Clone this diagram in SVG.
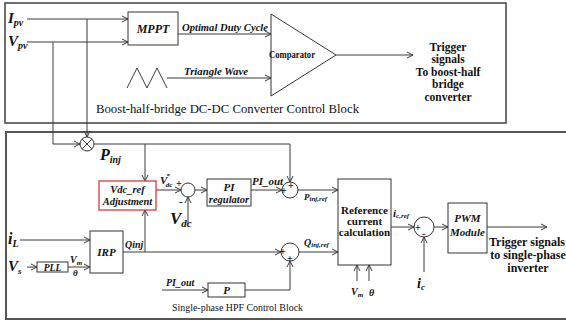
<svg xmlns="http://www.w3.org/2000/svg" width="566" height="325" viewBox="0 0 566 325" font-family="'Liberation Serif', 'Times New Roman', serif">
<style>
.frame{fill:none;stroke:#404040;stroke-width:1.5}
.box{fill:#fff;stroke:#333;stroke-width:1}
.red{fill:#fff;stroke:#d83a3a;stroke-width:1.3}
.ln{fill:none;stroke:#3a3a3a;stroke-width:1}
.ar{fill:none;stroke:#3a3a3a;stroke-width:1;marker-end:url(#ah)}
text{font-family:'Liberation Serif','Times New Roman',serif;fill:#111}
.bi{font-weight:bold;font-style:italic}
.b{font-weight:bold}
.c{text-anchor:middle}
</style>
<defs>
<marker id="ah" markerWidth="8" markerHeight="8" refX="7" refY="4" orient="auto" markerUnits="userSpaceOnUse"><path d="M1,1 L7,4 L1,7" fill="none" stroke="#3a3a3a" stroke-width="1"/></marker>
</defs>
<rect x="0" y="0" width="566" height="325" fill="#fff"/>
<rect class="frame" x="5" y="3" width="501" height="120"/>
<rect class="frame" x="6" y="132" width="580" height="187" style="stroke:#555;stroke-width:2"/>

<g id="connectors">
<path class="ar" d="M27,19 H128"/>
<path class="ar" d="M27,42 H128"/>
<path class="ar" d="M53,42 V144 H80"/>
<path class="ar" d="M87,19 V137"/>
<path class="ar" d="M94,144 H290 V182"/>
<path class="ar" d="M145,144 V181"/>
<path class="ar" d="M178,34 H271"/>
<polyline class="ln" points="127,88 137,68 147,88 157,68 167,88"/>
<path class="ar" d="M167,78 H271"/>
<path class="ar" d="M336,55 H413"/>
<path class="ar" d="M156,190 H181"/>
<path class="ar" d="M188,224 V197"/>
<path class="ar" d="M195,190 H207"/>
<path class="ar" d="M251,190 H282"/>
<path class="ar" d="M298,190 H338"/>
<path class="ar" d="M20,240 H90"/>
<path class="ar" d="M27,267 H37"/>
<path class="ar" d="M68,267 H90"/>
<path class="ar" d="M123,252 H281"/>
<path class="ar" d="M145,252 V210"/>
<path class="ar" d="M245,290 H290 V261"/>
<path class="ar" d="M162,290 H208"/>
<path class="ar" d="M299,252 H338"/>
<path class="ar" d="M357,281 V265"/>
<path class="ar" d="M369,281 V265"/>
<path class="ar" d="M391,227 H414"/>
<path class="ar" d="M424,272 V237"/>
<path class="ar" d="M434,227 H448"/>
<path class="ar" d="M487,227 H547"/>
</g>

<g id="labels-top">
<text class="bi" x="8" y="23" font-size="15">I<tspan font-size="10" dy="3">pv</tspan></text>
<text class="bi" x="8" y="46" font-size="15">V<tspan font-size="10" dy="3">pv</tspan></text>
<text class="bi" x="182" y="31" font-size="10" textLength="86" lengthAdjust="spacingAndGlyphs">Optimal Duty Cycle</text>
<text class="bi" x="184" y="75" font-size="10" textLength="64" lengthAdjust="spacingAndGlyphs">Triangle Wave</text>
<text x="96" y="113" font-size="13.5" textLength="263" lengthAdjust="spacingAndGlyphs">Boost-half-bridge DC-DC Converter Control  Block</text>
<text class="b c" x="448" y="51" font-size="11.5">Trigger</text>
<text class="b c" x="448" y="63" font-size="11.5">signals</text>
<text class="b c" x="448" y="76" font-size="11.5">To boost-half</text>
<text class="b c" x="448" y="88" font-size="11.5">bridge</text>
<text class="b c" x="448" y="101" font-size="11.5">converter</text>
</g>

<g id="mppt"><rect class="box" x="128" y="12" width="50" height="33"/><text class="bi c" x="153" y="33" font-size="12">MPPT</text></g>
<g id="comparator"><polygon class="box" points="271,14 336,55 271,96"/><text class="b" x="269" y="58" font-size="10.5" textLength="46" lengthAdjust="spacingAndGlyphs">Comparator</text></g>

<g id="multiplier"><circle class="box" cx="87" cy="144" r="7"/><path class="ln" d="M82,139 L92,149 M92,139 L82,149"/></g>
<text class="bi" x="100" y="160" font-size="16">P<tspan font-size="10" dy="3">inj</tspan></text>

<g id="vdcref"><rect class="red" x="99" y="181" width="57" height="29"/><text class="bi c" x="127.5" y="193" font-size="10.5">Vdc_ref</text><text class="bi c" x="127.5" y="205" font-size="10.5">Adjustment</text></g>

<g id="sum1"><circle class="box" cx="188" cy="190" r="7"/>
<text class="bi" x="160" y="184" font-size="11">V<tspan font-size="7" dx="-1" dy="-6">*</tspan><tspan font-size="7" dx="-4" dy="9">dc</tspan></text>
<text class="b" x="176" y="187" font-size="10">+</text>
<text class="b" x="179" y="205" font-size="11">-</text>
<text class="bi" x="170" y="224" font-size="17">V<tspan font-size="11" dy="3">dc</tspan></text>
</g>

<g id="pi"><rect class="box" x="207" y="179" width="44" height="27"/><text class="bi c" x="229" y="191" font-size="11">PI</text><text class="bi c" x="229" y="203" font-size="10.5">regulator</text></g>
<text class="bi" x="252" y="185" font-size="11">PI_out</text>

<g id="sum2"><circle class="box" cx="290" cy="190" r="8"/><text class="b" x="281" y="194" font-size="10">+</text><text class="b" x="288" y="189" font-size="10">+</text></g>
<text class="bi" x="304" y="200" font-size="9">P<tspan font-size="7" dy="1">inj,ref</tspan></text>

<g id="refcalc"><rect class="box" x="338" y="179" width="53" height="86"/><text class="b c" x="364.5" y="214" font-size="11">Reference</text><text class="b c" x="364.5" y="225" font-size="11">current</text><text class="b c" x="364.5" y="236" font-size="11">calculation</text></g>

<g id="sum3"><circle class="box" cx="290" cy="252" r="9"/><text class="b" x="280" y="255" font-size="10">+</text><text class="b" x="287" y="262" font-size="10">+</text></g>
<text class="bi" x="304" y="246" font-size="10">Q<tspan font-size="7" dy="1">inj,ref</tspan></text>

<g id="irp"><rect class="box" x="90" y="231" width="33" height="42"/><text class="bi c" x="106.5" y="256" font-size="11">IRP</text></g>
<text class="bi" x="125" y="248" font-size="10">Qinj</text>
<text class="bi" x="8" y="244" font-size="16">i<tspan font-size="10" dy="3">L</tspan></text>
<text class="bi" x="8" y="271" font-size="15">V<tspan font-size="9" dy="3">s</tspan></text>
<g id="pll"><rect class="box" x="37" y="262" width="31" height="10"/><text class="bi c" x="52.5" y="271" font-size="9.5">PLL</text></g>
<text class="bi" x="70" y="263" font-size="10">V<tspan font-size="7" dy="2">m</tspan></text>
<text class="bi" x="73" y="276" font-size="9">θ</text>

<g id="p"><rect class="box" x="208" y="283" width="37" height="14"/><text class="bi c" x="226.5" y="294" font-size="11">P</text></g>
<text class="bi" x="166" y="286" font-size="10">PI_out</text>
<text x="172" y="311" font-size="11" textLength="131" lengthAdjust="spacingAndGlyphs">Single-phase HPF  Control Block</text>
<text class="bi" x="351" y="295" font-size="10">V<tspan font-size="7" dy="2">m</tspan></text>
<text class="bi" x="369" y="296" font-size="10">θ</text>

<text class="bi" x="393" y="217" font-size="11">i<tspan font-size="7" dy="1">c,ref</tspan></text>
<g id="sum4"><circle class="box" cx="424" cy="227" r="10"/><text class="b" x="415" y="231" font-size="10">+</text><text class="b" x="422" y="237" font-size="10">-</text></g>
<text class="bi" x="417" y="288" font-size="14">i<tspan font-size="9" dy="2">c</tspan></text>
<g id="pwm"><rect class="box" x="448" y="203" width="39" height="50"/><text class="bi c" x="467.5" y="222" font-size="11">PWM</text><text class="bi c" x="467.5" y="236" font-size="11">Module</text></g>
<text class="b" x="489" y="246" font-size="12">Trigger signals</text>
<text class="b c" x="528" y="259" font-size="12">to single-phase</text>
<text class="b c" x="528" y="272" font-size="12">inverter</text>
</svg>
